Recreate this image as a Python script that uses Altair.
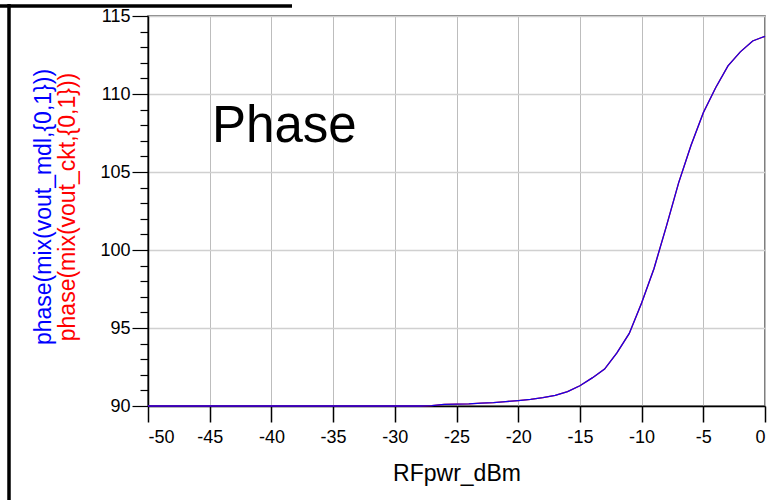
import altair as alt
import pandas as pd

# ---- data ----
rf_pwr_dbm = list(range(-50, 1))
phase_mdl = [90.0, 90.0, 90.0, 90.0, 90.0, 90.0, 90.0, 90.0, 90.0, 90.0,
             90.0, 90.0, 90.0, 90.0, 90.0, 90.0, 90.0, 90.0, 90.0, 90.0,
             90.0, 90.0, 90.0, 90.03, 90.1, 90.12, 90.13, 90.18, 90.22, 90.28,
             90.35, 90.43, 90.53, 90.68, 90.92, 91.3, 91.8, 92.37, 93.4, 94.65,
             96.6, 98.8, 101.5, 104.3, 106.7, 108.8, 110.4, 111.8, 112.7, 113.4,
             113.7]
phase_ckt = [90.0, 90.0, 90.0, 90.0, 90.0, 90.0, 90.0, 90.0, 90.0, 90.0,
             90.0, 90.0, 90.0, 90.0, 90.0, 90.0, 90.0, 90.0, 90.0, 90.0,
             90.0, 90.0, 90.0, 90.03, 90.1, 90.12, 90.13, 90.18, 90.22, 90.28,
             90.35, 90.43, 90.53, 90.68, 90.92, 91.3, 91.8, 92.37, 93.4, 94.65,
             96.6, 98.8, 101.5, 104.3, 106.7, 108.8, 110.4, 111.8, 112.7, 113.4,
             113.7]
x_ticks = list(range(-50, 1, 5))
y_ticks = list(range(90, 116))

FONT = "Liberation Sans"
W, H = 617, 390
PL, PT = 148, 16

df = pd.DataFrame({"x": rf_pwr_dbm, "mdl": phase_mdl, "ckt": phase_ckt})

x_enc = alt.X("x:Q", scale=alt.Scale(domain=[-50, 0], nice=False),
              axis=alt.Axis(values=x_ticks, tickCount=20, title="RFpwr_dBm",
                            labelExpr="datum.value + ''",
                            labelFontSize=18, labelFont=FONT, labelColor="black",
                            labelPadding=6, tickSize=16, tickColor="black", tickWidth=1.5,
                            domainColor="black", domainWidth=1.5, labelOverlap=False,
                            gridColor="#bdbdbd", gridWidth=1,
                            titleFont=FONT, titleFontSize=23, titleFontWeight="normal",
                            titleColor="black", titlePadding=16))

y_scale = alt.Scale(domain=[90, 115], nice=False)
y_axis = alt.Axis(values=y_ticks, tickCount=40, title=None, labelFontSize=18, labelFont=FONT,
                  labelColor="black", labelPadding=2, labelOverlap=False,
                  labelExpr="datum.value % 5 === 0 ? datum.value + '' : ''",
                  tickSize={"condition": {"test": "datum.value % 5 === 0", "value": 16}, "value": 8},
                  tickColor="black", tickWidth=1.2,
                  domainColor="black", domainWidth=1.5,
                  gridColor="#d0d0d0", gridWidth=1.5,
                  gridOpacity={"condition": {"test": "datum.value % 5 === 0", "value": 1}, "value": 0})

base = alt.Chart(df)

red = base.mark_line(color="#ff0000", strokeWidth=1.3).encode(
    x=x_enc, y=alt.Y("ckt:Q", scale=y_scale, axis=y_axis))
blue = base.mark_line(color="#0000ff", strokeWidth=1.3, opacity=0.92).encode(
    x=alt.X("x:Q"), y=alt.Y("mdl:Q"))

label_df = pd.DataFrame({"t": ["Phase"]})
phase_txt = alt.Chart(label_df).mark_text(
    font=FONT, fontSize=51, align="left", baseline="alphabetic", color="black"
).encode(text="t:N", x=alt.value(212 - PL), y=alt.value(142 - PT))

ytitle_df = pd.DataFrame({"t": ["phase(mix(vout_mdl,{0,1}))"]})
ytitle_blue = alt.Chart(ytitle_df).mark_text(
    font=FONT, fontSize=23, angle=270, align="center", baseline="middle", color="#0000ff"
).encode(text="t:N", x=alt.value(44 - PL), y=alt.value(207 - PT))

ytitle_df2 = pd.DataFrame({"t": ["phase(mix(vout_ckt,{0,1}))"]})
ytitle_red = alt.Chart(ytitle_df2).mark_text(
    font=FONT, fontSize=23, angle=270, align="center", baseline="middle", color="#ff0000"
).encode(text="t:N", x=alt.value(68 - PL), y=alt.value(207 - PT))

frame_df = pd.DataFrame({"k": [0]})
frame_h = alt.Chart(frame_df).mark_rule(color="black", strokeWidth=3.5).encode(
    x=alt.value(0 - PL), x2=alt.value(292 - PL), y=alt.value(6 - PT))
frame_v = alt.Chart(frame_df).mark_rule(color="black", strokeWidth=3.5).encode(
    x=alt.value(9 - PL), y=alt.value(4 - PT), y2=alt.value(500 - PT))

chart = alt.layer(red, blue, phase_txt, ytitle_blue, ytitle_red, frame_h, frame_v).properties(
    width=W, height=H,
    autosize=alt.AutoSizeParams(type="none"),
    padding={"left": PL, "top": PT, "right": 778 - PL - W, "bottom": 500 - PT - H},
    background="white",
).configure_view(stroke="#555555", strokeWidth=1.5)

chart.save("out.html", embed_options={"renderer": "svg", "actions": False})
